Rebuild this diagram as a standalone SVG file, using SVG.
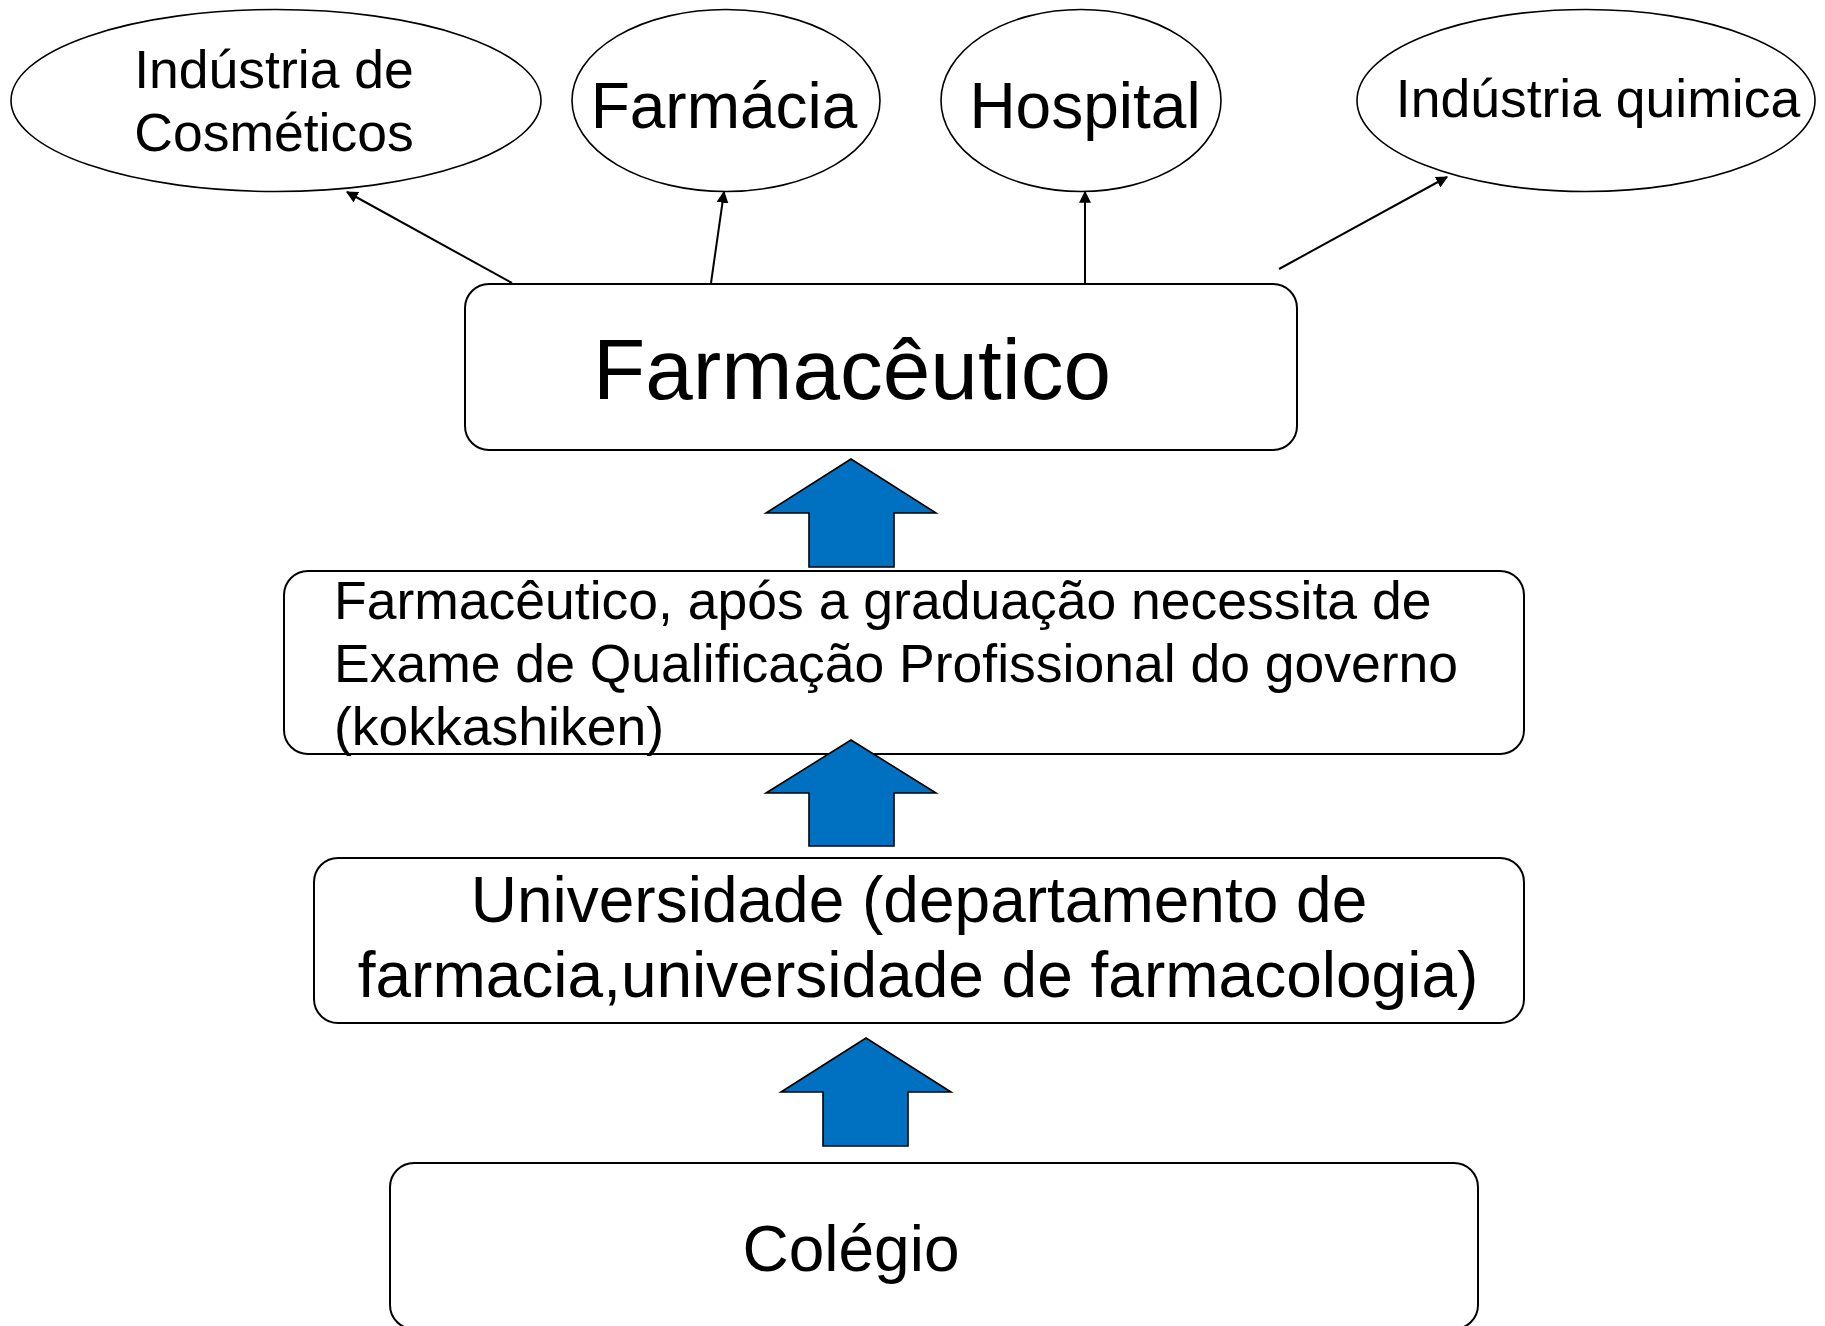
<svg xmlns="http://www.w3.org/2000/svg" width="1825" height="1326" viewBox="0 0 1825 1326">
<defs>
<style>
.bg{fill:#ffffff}
.ell{fill:#ffffff;stroke:#000;stroke-width:1.6}
.box{fill:#ffffff;stroke:#000;stroke-width:2}
.con{stroke:#000;stroke-width:2;fill:none;marker-end:url(#ah)}
.big{fill:#0070C0;stroke:#000;stroke-width:1.6;stroke-linejoin:miter}
text{font-family:"Liberation Sans",Arial,sans-serif;fill:#000}
</style>
<marker id="ah" viewBox="0 0 10 10" refX="9" refY="5" markerWidth="6" markerHeight="6" markerUnits="strokeWidth" orient="auto">
<path d="M0,0 L10,5 L0,10 z" fill="#000"/>
</marker>
</defs>
<rect class="bg" x="0" y="0" width="1825" height="1326"/>

<g id="node-cosmeticos">
<ellipse class="ell" cx="276" cy="100.5" rx="265" ry="91"/>
<text x="274" y="88" font-size="53.5" text-anchor="middle">Indústria de</text>
<text x="274" y="151" font-size="53.5" text-anchor="middle">Cosméticos</text>
</g>
<g id="node-farmacia">
<ellipse class="ell" cx="726" cy="100.5" rx="154" ry="91"/>
<text x="724" y="128" font-size="64" text-anchor="middle">Farmácia</text>
</g>
<g id="node-hospital">
<ellipse class="ell" cx="1081" cy="100.5" rx="140" ry="91"/>
<text x="1085" y="128" font-size="64" text-anchor="middle">Hospital</text>
</g>
<g id="node-quimica">
<ellipse class="ell" cx="1586" cy="100.5" rx="229" ry="91"/>
<text x="1598" y="117" font-size="53.5" text-anchor="middle">Indústria quimica</text>
</g>

<g id="node-farmaceutico">
<rect class="box" x="465" y="284" width="832" height="166" rx="24" ry="24"/>
<text x="593" y="399" font-size="85.5">Farmacêutico</text>
</g>
<g id="node-exame">
<rect class="box" x="284" y="571" width="1240" height="183" rx="24" ry="24"/>
<text x="334" y="619" font-size="53.5">Farmacêutico, após a graduação necessita de</text>
<text x="334" y="682" font-size="53.5">Exame de Qualificação Profissional do governo</text>
<text x="334" y="745" font-size="53.5">(kokkashiken)</text>
</g>
<g id="node-universidade">
<rect class="box" x="314" y="858" width="1210" height="165" rx="24" ry="24"/>
<text x="919" y="922" font-size="64" text-anchor="middle">Universidade (departamento de</text>
<text x="918" y="997" font-size="64" text-anchor="middle">farmacia,universidade de farmacologia)</text>
</g>
<g id="node-colegio">
<rect class="box" x="390" y="1163" width="1088" height="166" rx="24" ry="24"/>
<text x="851" y="1271" font-size="64" text-anchor="middle">Colégio</text>
</g>

<g id="connectors">
<line class="con" x1="512" y1="283" x2="347" y2="192"/>
<line class="con" x1="711" y1="283" x2="724" y2="192"/>
<line class="con" x1="1085" y1="283" x2="1085" y2="192"/>
<line class="con" x1="1279" y1="269" x2="1447" y2="177"/>
<path class="big" d="M851,459 L936,513 L894,513 L894,567 L809,567 L809,513 L766,513 Z"/>
<path class="big" d="M851,740 L936,793 L894,793 L894,846 L809,846 L809,793 L766,793 Z"/>
<path class="big" d="M866,1038 L951,1092 L908,1092 L908,1146 L823,1146 L823,1092 L781,1092 Z"/>
</g>
</svg>
